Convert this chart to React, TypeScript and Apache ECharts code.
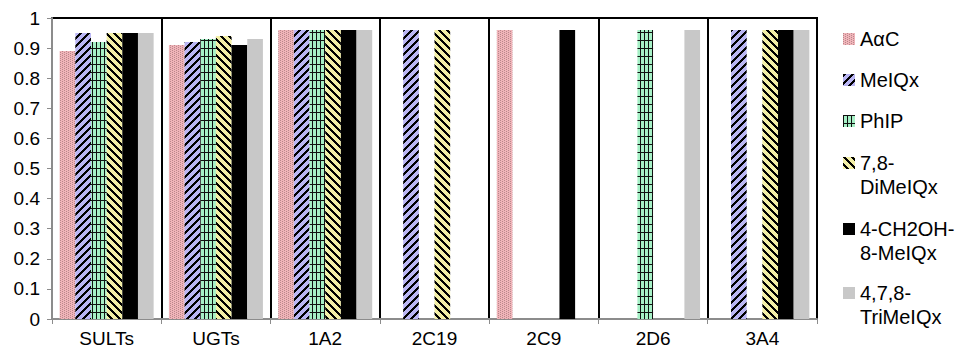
import React, { useEffect, useRef } from "react";
import * as echarts from "echarts";

const categories = ["SULTs", "UGTs", "1A2", "2C19", "2C9", "2D6", "3A4"];
const seriesNames = ["AαC", "MeIQx", "PhIP", "7,8-DiMeIQx", "4-CH2OH-8-MeIQx", "4,7,8-TriMeIQx"];
const legendLabels = ["AαC", "MeIQx", "PhIP", "7,8-\nDiMeIQx", "4-CH2OH-\n8-MeIQx", "4,7,8-\nTriMeIQx"];
const aacValues = [0.89, 0.91, 0.96, null, 0.96, null, null];
const meiqxValues = [0.95, 0.92, 0.96, 0.96, null, null, 0.96];
const phipValues = [0.92, 0.93, 0.96, null, null, 0.96, null];
const dimeiqxValues = [0.95, 0.94, 0.96, 0.96, null, null, 0.96];
const ch2ohValues = [0.95, 0.91, 0.96, null, 0.96, null, 0.96];
const trimeiqxValues = [0.95, 0.93, 0.96, null, null, 0.96, 0.96];
const yTicks = [0, 0.1, 0.2, 0.3, 0.4, 0.5, 0.6, 0.7, 0.8, 0.9, 1];

function makePattern(w: number, h: number, fn: (x: number, y: number) => string) {
  const c = document.createElement("canvas");
  c.width = w;
  c.height = h;
  const ctx = c.getContext("2d")!;
  for (let y = 0; y < h; y++) {
    for (let x = 0; x < w; x++) {
      ctx.fillStyle = fn(x, y);
      ctx.fillRect(x, y, 1, 1);
    }
  }
  return { image: c, repeat: "repeat" };
}

export default function App() {
  const ref = useRef<HTMLDivElement>(null);
  useEffect(() => {
    if (!ref.current) return;
    document.body.style.margin = "0";
    const chart = echarts.init(ref.current, undefined, { renderer: "svg" });

    const pink = makePattern(4, 4, (x, y) =>
      (x === 0 && y % 2 === 0) || (x === 2 && y % 2 === 1) ? "#b9878b" : "#f0b4b9"
    );
    const lav = makePattern(8, 8, (x, y) => ((x + y) % 8 < 3 ? "#000000" : "#b9b5f3"));
    const green = makePattern(4, 8, (x, y) => (x === 0 || y === 0 ? "#101010" : "#a6f0c6"));
    const yellow = makePattern(8, 8, (x, y) => ((x - y + 80) % 8 < 3 ? "#000000" : "#f3efa6"));
    const fills: any[] = [pink, lav, green, yellow, "#000000", "#c8c8c8"];
    const dataSets = [aacValues, meiqxValues, phipValues, dimeiqxValues, ch2ohValues, trimeiqxValues];

    const font = "Liberation Sans";
    const legendCenters = [39, 80, 121, 163, 229, 293];

    const legends = seriesNames.map((name, i) => {
      const multi = legendLabels[i].includes("\n");
      return {
        data: [name],
        orient: "vertical",
        left: 843,
        top: multi ? legendCenters[i] - 36 : legendCenters[i] - 12,
        padding: 0,
        icon: "rect",
        itemWidth: 12,
        itemHeight: 12,
        itemGap: 0,
        selectedMode: false,
        formatter: () => (multi ? " \n" + legendLabels[i] : legendLabels[i]),
        textStyle: {
          fontFamily: font,
          fontSize: 20,
          color: "#000",
          lineHeight: 24,
          backgroundColor: "rgba(0,0,0,0)",
        },
      };
    });

    chart.setOption({
      animation: false,
      legend: legends,
      grid: {
        left: 52,
        right: 148,
        top: 18,
        bottom: 28,
        show: true,
        borderColor: "#000",
        borderWidth: 2,
        backgroundColor: "#fff",
      },
      xAxis: {
        type: "category",
        data: categories,
        axisLine: { lineStyle: { color: "#8c8c8c", width: 2 } },
        axisTick: { show: true, length: 5, lineStyle: { color: "#8c8c8c", width: 1 } },
        axisLabel: { fontFamily: font, fontSize: 19, color: "#000", margin: 10 },
        splitLine: { show: true, lineStyle: { color: "#000", width: 2 } },
      },
      yAxis: {
        type: "value",
        min: yTicks[0],
        max: yTicks[yTicks.length - 1],
        interval: 0.1,
        axisLine: { show: true, lineStyle: { color: "#8c8c8c", width: 2 } },
        axisTick: { show: true, length: 5, lineStyle: { color: "#8c8c8c", width: 1 } },
        axisLabel: {
          fontFamily: font,
          fontSize: 19,
          color: "#000",
          margin: 12,
          formatter: (v: number) => String(Math.round(v * 10) / 10),
        },
        splitLine: { show: false },
      },
      series: seriesNames.map((name, i) => ({
        name,
        type: "bar",
        data: dataSets[i],
        barGap: "0%",
        barCategoryGap: "14%",
        itemStyle: { color: fills[i] },
      })),
    });
    return () => chart.dispose();
  }, []);
  return <div ref={ref} style={{ width: 965, height: 348 }} />;
}
